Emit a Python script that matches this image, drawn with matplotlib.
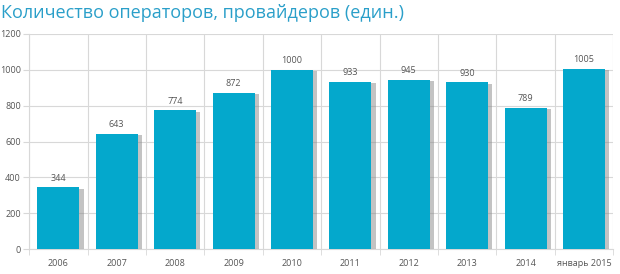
import numpy as np
import matplotlib.pyplot as plt
import matplotlib.patheffects as pe

categories = ["2006", "2007", "2008", "2009", "2010", "2011", "2012", "2013", "2014", "январь 2015"]
values = [344, 643, 774, 872, 1000, 933, 945, 930, 789, 1005]
yticks = [0, 200, 400, 600, 800, 1000, 1200]

bar_color = "#04a8cc"
grid_color = "#d8d8d8"
text_color = "#555555"

plt.rcParams["font.family"] = ["Open Sans", "DejaVu Sans"]

fig = plt.figure(figsize=(6.2, 2.74), dpi=100)
ax = fig.add_axes([0.047, 0.091, 0.942, 0.785])

x = np.arange(len(categories))
bars = ax.bar(x, values, width=0.72, color=bar_color, zorder=3,
              path_effects=[pe.SimplePatchShadow(offset=(3, -1), shadow_rgbFace="#888888", alpha=0.5),
                            pe.Normal()])

for xi, v in zip(x, values):
    ax.text(xi, v + 25, str(v), ha="center", va="bottom", fontsize=6.5, color=text_color)

ax.set_xlim(-0.5, len(categories) - 0.5)
ax.set_ylim(0, 1200)
ax.set_yticks(yticks)
ax.set_yticklabels([str(t) for t in yticks], fontsize=6.5, color=text_color)
ax.set_xticks(x)
ax.set_xticklabels(categories, fontsize=6.5, color=text_color)
ax.tick_params(axis="x", length=0, pad=7)
ax.tick_params(axis="y", length=4, color=grid_color, pad=2)

ax.set_xticks(np.arange(len(categories) + 1) - 0.5, minor=True)
ax.tick_params(axis="x", which="minor", length=4, color=grid_color)
ax.grid(axis="y", color=grid_color, linewidth=0.8, zorder=0)
ax.grid(axis="x", which="minor", color=grid_color, linewidth=0.8, zorder=0)

for s in ["top", "right"]:
    ax.spines[s].set_visible(False)
ax.spines["left"].set_color(grid_color)
ax.spines["bottom"].set_color(grid_color)

fig.text(0.002, 0.985, "Количество операторов, провайдеров (един.)", fontsize=13,
         color="#2a9fc9", ha="left", va="top")

fig.savefig("out.png", dpi=100)
